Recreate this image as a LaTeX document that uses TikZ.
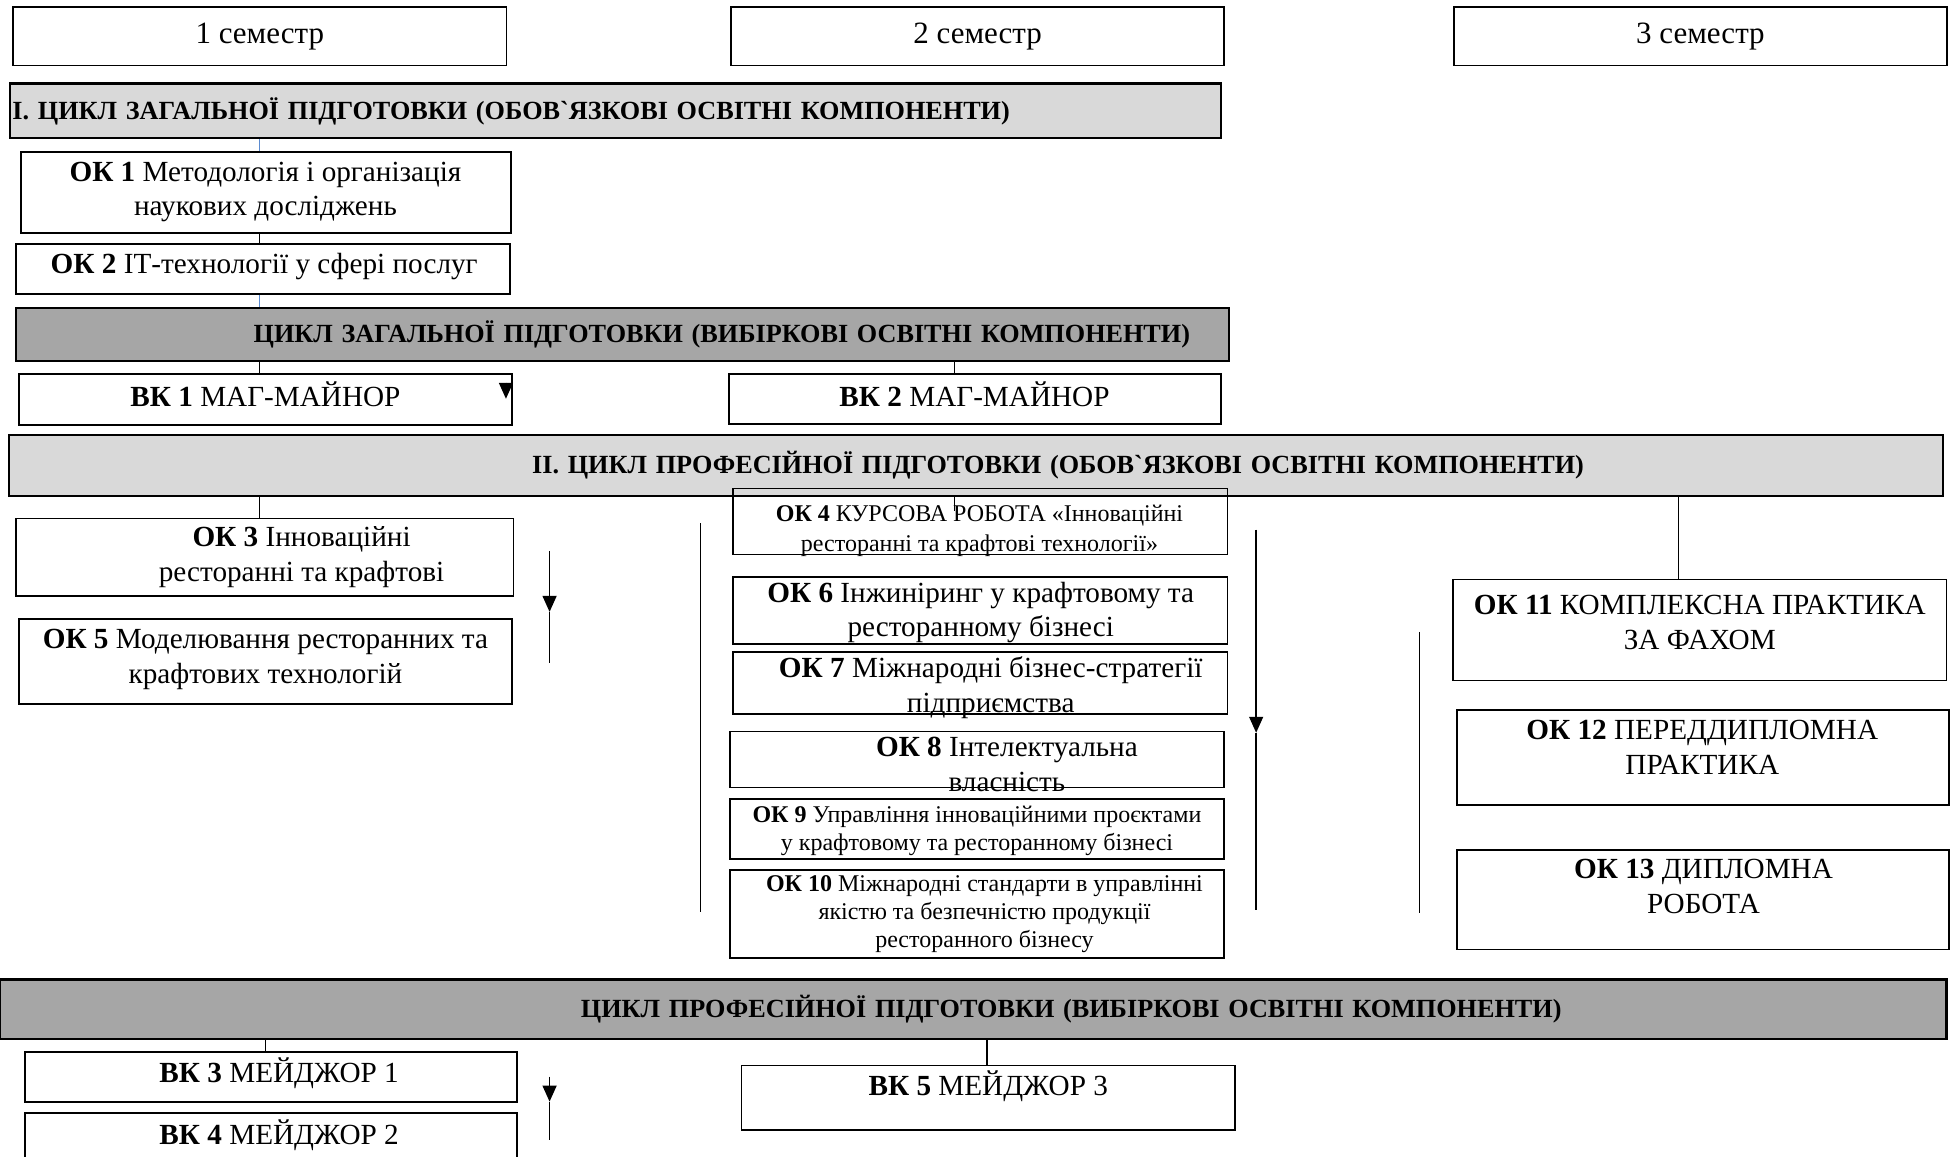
\documentclass[tikz,border=0pt]{standalone}
\usepackage{fontspec}
\setmainfont{Liberation Serif}
\usetikzlibrary{calc, arrows.meta}
\definecolor{BarLight}{HTML}{D9D9D9}
\definecolor{BarDark}{HTML}{A6A6A6}
\definecolor{LinkBlue}{HTML}{5B8BD0}
\newlength\px
\setlength\px{0.6231pt}

\begin{document}
\begin{tikzpicture}[x=\px, y=-\px,
    cell/.style={draw, line width=0.9pt, inner sep=0pt},
    bar/.style={draw, line width=1.1pt, inner sep=0pt, font=\fontsize{13.1}{15.5}\selectfont\bfseries},
    txt/.style={align=center, inner sep=0pt, font=\fontsize{14.6}{17.4}\selectfont},
    txtsm/.style={align=center, inner sep=0pt, font=\fontsize{12}{13.9}\selectfont},
    sz/.style 2 args={minimum width=#1*\px, minimum height=#2*\px},
    link/.style={line width=0.7pt},
    headarrow/.style={link, -{Triangle[length=8pt, width=7pt]}}]
  \useasboundingbox (0,0) rectangle (1568,928);
  \clip (0,0) rectangle (1568,928);

  % semesters
  \foreach \n/\cx in {1/208.5, 2/784.5, 3/1364.5}
    \node[cell, txt, font=\fontsize{15.5}{18}\selectfont, sz={396}{47}] (sem\n) at (\cx,29) {\n\ семестр};

  % cycle bars
  \node[bar, fill=BarLight, sz={972}{44}, text width=603.2pt, align=left] (barA) at (494,89)
    {І. ЦИКЛ ЗАГАЛЬНОЇ ПІДГОТОВКИ (ОБОВ\textasciigrave ЯЗКОВІ ОСВІТНІ КОМПОНЕНТИ)};
  \node[bar, fill=BarDark, sz={973}{43}, text width=567.6pt, align=right] (barB) at (499.5,268.5)
    {ЦИКЛ ЗАГАЛЬНОЇ ПІДГОТОВКИ (ВИБІРКОВІ ОСВІТНІ КОМПОНЕНТИ)};
  \node[bar, fill=BarLight, sz={1552}{49}, text width=608.1pt, align=right] (barC) at (783,373.5)
    {ІІ. ЦИКЛ ПРОФЕСІЙНОЇ ПІДГОТОВКИ (ОБОВ\textasciigrave ЯЗКОВІ ОСВІТНІ КОМПОНЕНТИ)};
  \node[bar, fill=BarDark, sz={1562}{48}, text width=588.2pt, align=right] (barD) at (781,810)
    {ЦИКЛ ПРОФЕСІЙНОЇ ПІДГОТОВКИ (ВИБІРКОВІ ОСВІТНІ КОМПОНЕНТИ)};

  % course boxes
  \node[cell, sz={393}{65}] (ok1) at (213.5,154.5) {};
  \node[cell, sz={396}{40}] (ok2) at (211,216) {};
  \node[cell, sz={396}{41}] (vk1) at (213,320.5) {};
  \node[cell, sz={395}{40}] (vk2) at (782.5,320) {};
  \node[cell, sz={399}{62}] (ok3) at (212.5,447) {};
  \node[cell, sz={396}{68}] (ok5) at (213,531) {};
  \node[cell, sz={397}{53}] (ok4) at (786.5,418.5) {};
  \node[cell, sz={397}{54}] (ok6) at (786.5,490) {};
  \node[cell, sz={397}{50}] (ok7) at (786.5,548) {};
  \node[cell, sz={396}{45}] (ok8) at (784,609.5) {};
  \node[cell, sz={396}{48}] (ok9) at (784,665) {};
  \node[cell, sz={396}{71}] (ok10) at (784,733.5) {};
  \node[cell, sz={396}{81}] (ok11) at (1364,505.5) {};
  \node[cell, sz={395}{76}] (ok12) at (1366.5,608) {};
  \node[cell, sz={395}{80}] (ok13) at (1366.5,722) {};
  \node[cell, sz={395}{40}] (vk3) at (217.5,864) {};
  \node[cell, sz={395}{52}] (vk4) at (217.5,919) {};
  \node[cell, sz={396}{52}] (vk5) at (793,881) {};

  % box texts
  \node[txt] (ok1t) at (213,154) {\textbf{ОК 1} Методологія і організація\\наукових досліджень};
  \node[txt] (ok2t) at (212,213.5) {\textbf{ОК 2} ІТ-технології у сфері послуг};
  \node[txt] (vk1t) at (213,316) {\textbf{ВК 1} МАГ-МАЙНОР};
  \node[txt] (vk2t) at (782,316) {\textbf{ВК 2} МАГ-МАЙНОР};
  \node[txt] (ok3t) at (242,447) {\textbf{ОК 3} Інноваційні\\ресторанні та крафтові};
  \node[txt] (ok5t) at (213,529) {\textbf{ОК 5} Моделювання ресторанних та\\крафтових технологій};
  \node[txtsm, font=\fontsize{12}{15}\selectfont] (ok4t) at (786,426)
    {\textbf{ОК 4} КУРСОВА РОБОТА «Інноваційні\\ресторанні та крафтові технології»};
  \node[txt] (ok6t) at (787,491.5) {\textbf{ОК 6} Інжиніринг у крафтовому та\\ресторанному бізнесі};
  \node[txt] (ok7t) at (795,551.5) {\textbf{ОК 7} Міжнародні бізнес-стратегії\\підприємства};
  \node[txt] (ok8t) at (808,613.5) {\textbf{ОК 8} Інтелектуальна\\власність};
  \node[txtsm] (ok9t) at (784,667) {\textbf{ОК 9} Управління інноваційними проєктами\\у крафтовому та ресторанному бізнесі};
  \node[txtsm] (ok10t) at (790,733.5)
    {\textbf{ОК 10} Міжнародні стандарти в управлінні\\якістю та безпечністю продукції\\ресторанного бізнесу};
  \node[txt] (ok11t) at (1364,499.5) {\textbf{ОК 11} КОМПЛЕКСНА ПРАКТИКА\\ЗА ФАХОМ};
  \node[txt] (ok12t) at (1366,599.5) {\textbf{ОК 12} ПЕРЕДДИПЛОМНА\\ПРАКТИКА};
  \node[txt] (ok13t) at (1367,711.5) {\textbf{ОК 13} ДИПЛОМНА\\РОБОТА};
  \node[txt] (vk3t) at (224,861) {\textbf{ВК 3} МЕЙДЖОР 1};
  \node[txt] (vk4t) at (224,911) {\textbf{ВК 4} МЕЙДЖОР 2};
  \node[txt] (vk5t) at (793,872) {\textbf{ВК 5} МЕЙДЖОР 3};

  % connectors
  \coordinate (colA) at (208,0);
  \coordinate (colB) at (766,0);
  \coordinate (colC) at (1347,0);
  \coordinate (colD) at (213,0);
  \coordinate (colE) at (792,0);
  \coordinate (ok4in) at (766,410);
  \draw[LinkBlue, line width=0.6pt] (barA.south -| colA) -- (ok1.north -| colA);
  \draw[link] (ok1.south -| colA) -- (ok2.north -| colA);
  \draw[LinkBlue, line width=0.6pt] (ok2.south -| colA) -- (barB.north -| colA);
  \draw[link] (barB.south -| colA) -- (vk1.north -| colA);
  \draw[link] (barB.south -| colB) -- (vk2.north -| colB);
  \draw[link] (barC.south -| colA) -- (ok3.north -| colA);
  \draw[link] (barC.south -| colB) -- (ok4in);
  \draw[link] (barC.south -| colC) -- (ok11.north -| colC);
  \draw[link] (barD.south -| colD) -- (vk3.north -| colD);
  \draw[link] (barD.south -| colE) -- (vk5.north -| colE);

  % flow lines
  \coordinate (v1s) at (406,307);
  \coordinate (v1t) at (406,320);
  \draw[headarrow] (v1s) -- (v1t);
  \coordinate (a1s) at (441,442);
  \coordinate (a1t) at (441,491);
  \coordinate (a1e) at (441,532);
  \draw[headarrow] (a1s) -- (a1t);
  \draw[link] (a1t) -- (a1e);
  \coordinate (l2s) at (562,420);
  \coordinate (l2e) at (562,732);
  \draw[link] (l2s) -- (l2e);
  \coordinate (a3s) at (1008,425);
  \coordinate (a3t) at (1008,588);
  \coordinate (a3e) at (1008,730);
  \draw[headarrow] (a3s) -- (a3t);
  \draw[link] (a3t) -- (a3e);
  \coordinate (l4s) at (1139,507);
  \coordinate (l4e) at (1139,733);
  \draw[link] (l4s) -- (l4e);
  \coordinate (a5s) at (441,864);
  \coordinate (a5t) at (441,884);
  \coordinate (a5e) at (441,915);
  \draw[headarrow] (a5s) -- (a5t);
  \draw[link] (a5t) -- (a5e);
\end{tikzpicture}
\end{document}
